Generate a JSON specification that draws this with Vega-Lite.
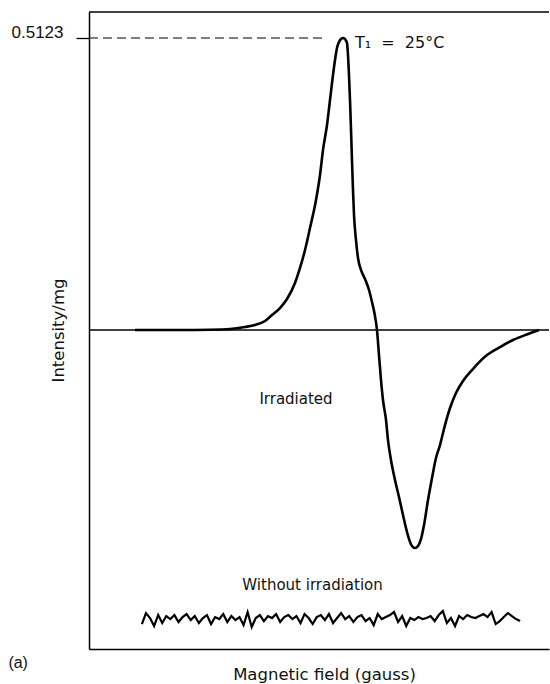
{
  "$schema": "https://vega.github.io/schema/vega-lite/v6.json",
  "width": 460,
  "height": 637,
  "autosize": {"type": "none"},
  "padding": {"left": 89, "top": 12, "right": 1, "bottom": 35},
  "background": "white",
  "config": {"view": {"stroke": null}, "font": "DejaVu Sans"},
  "datasets": {
    "irradiated": [
      {"field": 10.0, "intensity": 0},
      {"field": 19.78, "intensity": 0},
      {"field": 26.3, "intensity": 0.0005},
      {"field": 30.65, "intensity": 0.0018},
      {"field": 33.9, "intensity": 0.0053},
      {"field": 36.09, "intensity": 0.0088},
      {"field": 38.26, "intensity": 0.0158},
      {"field": 39.78, "intensity": 0.0263},
      {"field": 41.52, "intensity": 0.0386},
      {"field": 43.04, "intensity": 0.0544},
      {"field": 44.78, "intensity": 0.0825},
      {"field": 45.87, "intensity": 0.1088},
      {"field": 46.96, "intensity": 0.1404},
      {"field": 48.04, "intensity": 0.1789},
      {"field": 49.35, "intensity": 0.2281},
      {"field": 50.22, "intensity": 0.2719},
      {"field": 50.87, "intensity": 0.3158},
      {"field": 51.74, "intensity": 0.3596},
      {"field": 52.39, "intensity": 0.4035},
      {"field": 53.04, "intensity": 0.4474},
      {"field": 53.48, "intensity": 0.4737},
      {"field": 53.91, "intensity": 0.4947},
      {"field": 54.35, "intensity": 0.5053},
      {"field": 54.78, "intensity": 0.5105},
      {"field": 55.22, "intensity": 0.5123},
      {"field": 55.65, "intensity": 0.5105},
      {"field": 56.09, "intensity": 0.5035},
      {"field": 56.3, "intensity": 0.4825},
      {"field": 56.52, "intensity": 0.4474},
      {"field": 56.74, "intensity": 0.4035},
      {"field": 56.96, "intensity": 0.3509},
      {"field": 57.17, "intensity": 0.2982},
      {"field": 57.39, "intensity": 0.2456},
      {"field": 57.61, "intensity": 0.2018},
      {"field": 58.04, "intensity": 0.1579},
      {"field": 58.48, "intensity": 0.1263},
      {"field": 59.13, "intensity": 0.1053},
      {"field": 60.0, "intensity": 0.0895},
      {"field": 60.87, "intensity": 0.0702},
      {"field": 61.52, "intensity": 0.0491},
      {"field": 62.17, "intensity": 0.0246},
      {"field": 62.61, "intensity": 0},
      {"field": 63.04, "intensity": -0.0439},
      {"field": 63.48, "intensity": -0.0877},
      {"field": 63.91, "intensity": -0.1228},
      {"field": 64.57, "intensity": -0.1579},
      {"field": 65.0, "intensity": -0.193},
      {"field": 65.65, "intensity": -0.2281},
      {"field": 66.52, "intensity": -0.2632},
      {"field": 67.39, "intensity": -0.293},
      {"field": 68.26, "intensity": -0.3246},
      {"field": 68.91, "intensity": -0.3474},
      {"field": 69.57, "intensity": -0.3667},
      {"field": 70.22, "intensity": -0.3789},
      {"field": 70.87, "intensity": -0.3825},
      {"field": 71.52, "intensity": -0.3789},
      {"field": 72.17, "intensity": -0.3667},
      {"field": 72.83, "intensity": -0.3421},
      {"field": 73.7, "intensity": -0.2982},
      {"field": 74.57, "intensity": -0.2596},
      {"field": 75.43, "intensity": -0.2246},
      {"field": 76.3, "intensity": -0.2018},
      {"field": 77.39, "intensity": -0.1667},
      {"field": 78.48, "intensity": -0.1368},
      {"field": 79.78, "intensity": -0.1105},
      {"field": 81.3, "intensity": -0.0895},
      {"field": 83.26, "intensity": -0.0702},
      {"field": 86.52, "intensity": -0.0439},
      {"field": 89.35, "intensity": -0.0298},
      {"field": 92.17, "intensity": -0.0175},
      {"field": 95.43, "intensity": -0.007},
      {"field": 97.83, "intensity": 0}
    ],
    "unirradiated": [
      {"field": 11.5, "intensity": -0.5158},
      {"field": 12.38, "intensity": -0.4966},
      {"field": 13.27, "intensity": -0.5053},
      {"field": 14.15, "intensity": -0.5193},
      {"field": 15.04, "intensity": -0.5001},
      {"field": 15.92, "intensity": -0.5141},
      {"field": 16.8, "intensity": -0.5018},
      {"field": 17.69, "intensity": -0.5071},
      {"field": 18.57, "intensity": -0.5001},
      {"field": 19.46, "intensity": -0.5123},
      {"field": 20.34, "intensity": -0.5036},
      {"field": 21.22, "intensity": -0.4983},
      {"field": 22.11, "intensity": -0.5088},
      {"field": 22.99, "intensity": -0.5018},
      {"field": 23.88, "intensity": -0.5141},
      {"field": 24.76, "intensity": -0.5053},
      {"field": 25.64, "intensity": -0.5001},
      {"field": 26.53, "intensity": -0.5158},
      {"field": 27.41, "intensity": -0.5036},
      {"field": 28.3, "intensity": -0.5071},
      {"field": 29.18, "intensity": -0.4983},
      {"field": 30.06, "intensity": -0.5123},
      {"field": 30.95, "intensity": -0.5018},
      {"field": 31.83, "intensity": -0.5088},
      {"field": 32.72, "intensity": -0.5036},
      {"field": 33.6, "intensity": -0.5176},
      {"field": 34.48, "intensity": -0.4948},
      {"field": 35.37, "intensity": -0.5211},
      {"field": 36.25, "intensity": -0.5053},
      {"field": 37.14, "intensity": -0.5001},
      {"field": 38.02, "intensity": -0.5106},
      {"field": 38.9, "intensity": -0.5018},
      {"field": 39.79, "intensity": -0.5053},
      {"field": 40.67, "intensity": -0.4983},
      {"field": 41.56, "intensity": -0.5123},
      {"field": 42.44, "intensity": -0.5036},
      {"field": 43.32, "intensity": -0.5001},
      {"field": 44.21, "intensity": -0.5071},
      {"field": 45.09, "intensity": -0.5018},
      {"field": 45.98, "intensity": -0.5141},
      {"field": 46.86, "intensity": -0.4983},
      {"field": 47.74, "intensity": -0.5053},
      {"field": 48.63, "intensity": -0.5158},
      {"field": 49.51, "intensity": -0.5036},
      {"field": 50.4, "intensity": -0.5001},
      {"field": 51.28, "intensity": -0.5088},
      {"field": 52.16, "intensity": -0.4983},
      {"field": 53.05, "intensity": -0.5141},
      {"field": 53.93, "intensity": -0.5053},
      {"field": 54.82, "intensity": -0.4966},
      {"field": 55.7, "intensity": -0.5071},
      {"field": 56.58, "intensity": -0.5018},
      {"field": 57.47, "intensity": -0.5123},
      {"field": 58.35, "intensity": -0.5036},
      {"field": 59.24, "intensity": -0.5001},
      {"field": 60.12, "intensity": -0.5106},
      {"field": 61.0, "intensity": -0.5053},
      {"field": 61.89, "intensity": -0.5176},
      {"field": 62.77, "intensity": -0.4983},
      {"field": 63.66, "intensity": -0.5071},
      {"field": 64.54, "intensity": -0.5036},
      {"field": 65.42, "intensity": -0.5001},
      {"field": 66.31, "intensity": -0.4948},
      {"field": 67.19, "intensity": -0.5123},
      {"field": 68.08, "intensity": -0.5018},
      {"field": 68.96, "intensity": -0.5193},
      {"field": 69.84, "intensity": -0.5053},
      {"field": 70.73, "intensity": -0.5088},
      {"field": 71.61, "intensity": -0.5036},
      {"field": 72.5, "intensity": -0.5071},
      {"field": 73.38, "intensity": -0.5053},
      {"field": 74.26, "intensity": -0.5018},
      {"field": 75.15, "intensity": -0.5106},
      {"field": 76.03, "intensity": -0.5001},
      {"field": 76.92, "intensity": -0.4931},
      {"field": 77.8, "intensity": -0.5141},
      {"field": 78.68, "intensity": -0.5053},
      {"field": 79.57, "intensity": -0.5193},
      {"field": 80.45, "intensity": -0.5018},
      {"field": 81.34, "intensity": -0.5071},
      {"field": 82.22, "intensity": -0.5001},
      {"field": 83.1, "intensity": -0.5036},
      {"field": 83.99, "intensity": -0.5053},
      {"field": 84.87, "intensity": -0.5018},
      {"field": 85.76, "intensity": -0.4983},
      {"field": 86.64, "intensity": -0.5036},
      {"field": 87.52, "intensity": -0.4948},
      {"field": 88.41, "intensity": -0.5158},
      {"field": 89.29, "intensity": -0.5106},
      {"field": 90.18, "intensity": -0.5036},
      {"field": 91.06, "intensity": -0.4966},
      {"field": 91.94, "intensity": -0.5018},
      {"field": 92.83, "intensity": -0.5071},
      {"field": 93.71, "intensity": -0.5106}
    ],
    "frameLines": [
      {"field": 0, "field2": 100, "intensity": 0},
      {"field": 0, "field2": 100, "intensity": 0.5579}
    ],
    "peakMarker": [
      {"field": 0, "field2": 51.3, "intensity": 0.5123}
    ],
    "condition": [
      {"field": 57.8, "intensity": 0.5035, "label": "T₁\u00a0 = \u00a025°C"}
    ],
    "captions": [
      {"field": 45.0, "intensity": -0.121, "label": "Irradiated"},
      {"field": 48.6, "intensity": -0.447, "label": "Without irradiation"}
    ],
    "panel": [
      {"field": -15.4, "intensity": -0.584, "label": "(a)"}
    ]
  },
  "encoding": {
    "x": {
      "field": "field", "type": "quantitative",
      "scale": {"domain": [0, 100], "nice": false, "zero": false},
      "axis": {
        "domain": true, "domainColor": "black", "domainWidth": 1.5,
        "ticks": false, "labels": false, "grid": false,
        "title": "Magnetic field (gauss)", "titleFont": "DejaVu Sans",
        "titleFontSize": 16.5, "titleFontWeight": "normal", "titleColor": "#111",
        "titleX": 235, "titleY": 30, "titleAlign": "center", "titleBaseline": "alphabetic"
      }
    },
    "y": {
      "field": "intensity", "type": "quantitative",
      "scale": {"domain": [-0.5596, 0.5579], "nice": false, "zero": false},
      "axis": {
        "values": [0.5123], "format": ".4f", "grid": false,
        "tickSize": 13, "tickColor": "black", "tickWidth": 1.3,
        "labelFont": "Liberation Sans", "labelFontSize": 17, "labelColor": "#111",
        "labelPadding": 13, "labelBaseline": "alphabetic",
        "domainColor": "black", "domainWidth": 1.5,
        "title": "Intensity/mg", "titleFont": "DejaVu Sans", "titleFontSize": 16.5,
        "titleFontWeight": "normal", "titleColor": "#111",
        "titleX": -31, "titleY": 318, "titleAngle": -90,
        "titleAlign": "center", "titleBaseline": "middle"
      }
    }
  },
  "layer": [
    {
      "data": {"name": "frameLines"},
      "mark": {"type": "rule", "color": "black", "strokeWidth": 1.4},
      "encoding": {"x2": {"field": "field2"}}
    },
    {
      "data": {"name": "peakMarker"},
      "mark": {"type": "rule", "color": "black", "strokeWidth": 1.2, "strokeDash": [9, 5]},
      "encoding": {"x2": {"field": "field2"}}
    },
    {
      "data": {"name": "irradiated"},
      "mark": {"type": "line", "color": "black", "strokeWidth": 2.6, "interpolate": "monotone"},
      "encoding": {}
    },
    {
      "data": {"name": "unirradiated"},
      "mark": {"type": "line", "color": "black", "strokeWidth": 2.2, "strokeJoin": "miter"},
      "encoding": {}
    },
    {
      "data": {"name": "condition"},
      "mark": {"type": "text", "color": "#111", "align": "left", "baseline": "middle", "font": "DejaVu Sans", "fontSize": 16},
      "encoding": {"text": {"field": "label"}}
    },
    {
      "data": {"name": "captions"},
      "mark": {"type": "text", "color": "#111", "align": "center", "baseline": "middle", "font": "DejaVu Sans", "fontSize": 15},
      "encoding": {"text": {"field": "label"}}
    },
    {
      "data": {"name": "panel"},
      "mark": {"type": "text", "color": "#111", "align": "center", "baseline": "middle", "font": "Liberation Sans", "fontSize": 16, "clip": false},
      "encoding": {"text": {"field": "label"}}
    }
  ]
}
